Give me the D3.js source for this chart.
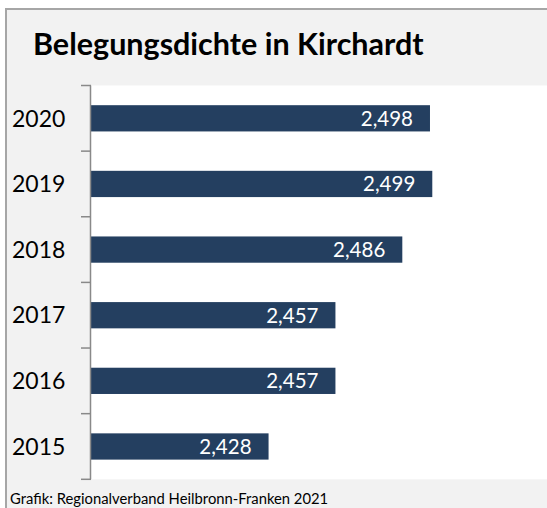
<!DOCTYPE html>
<html><head><meta charset="utf-8">
<script src="https://cdn.jsdelivr.net/npm/d3@7"></script>
<style>html,body{margin:0;padding:0;background:#fff;}svg{display:block;}</style>
</head><body>
<svg id="c" width="547" height="508"></svg>
<script>
const years = ["2020","2019","2018","2017","2016","2015"];
const values = [2.498, 2.499, 2.486, 2.457, 2.457, 2.428];
const xDomain = [2.351, 2.551];
const title = "Belegungsdichte in Kirchardt";
const source = "Grafik: Regionalverband Heilbronn-Franken 2021";

const svg = d3.select("#c");
const W = 547, H = 508;
// outer frame
svg.append("rect").attr("x", 6).attr("y", 9).attr("width", W + 10).attr("height", H)
  .attr("fill", "#f2f2f2").attr("stroke", "#a6a6a6").attr("stroke-width", 2);

const plot = {left: 91, top: 85.5, bottom: 479.3, right: 547};
svg.append("rect").attr("x", plot.left).attr("y", plot.top)
  .attr("width", plot.right - plot.left).attr("height", plot.bottom - plot.top).attr("fill", "#fff");

const x = d3.scaleLinear().domain(xDomain).range([plot.left, plot.left + 0.2 * 2306]);
const y = d3.scaleBand().domain(years).range([plot.top, plot.bottom]).paddingInner(0.6).paddingOuter(0.3);
const yBound = d3.scaleBand().domain(years).range([plot.top, plot.bottom]);

svg.append("text").attr("x", 33).attr("y", 55).text(title)
  .attr("font-family", "Lato, 'Open Sans', sans-serif").attr("font-weight", "bold")
  .attr("font-size", 30.5).attr("fill", "#000");

svg.selectAll("rect.bar").data(values).enter().append("rect").attr("class", "bar")
  .attr("x", x(xDomain[0])).attr("y", (d, i) => y(years[i]))
  .attr("width", d => x(d) - x(xDomain[0])).attr("height", y.bandwidth())
  .attr("fill", "#243f60");

svg.selectAll("text.val").data(values).enter().append("text").attr("class", "val")
  .attr("x", d => x(d) - 17).attr("y", (d, i) => y(years[i]) + y.bandwidth() / 2)
  .attr("dy", "0.36em").attr("text-anchor", "end")
  .attr("font-family", "Lato, sans-serif").attr("font-size", 20.5).attr("fill", "#fff")
  .text(d => d3.format(".3f")(d).replace(".", ","));

// axis
const axisG = svg.append("g");
axisG.append("line").attr("x1", plot.left - 0.5).attr("x2", plot.left - 0.5)
  .attr("y1", plot.top).attr("y2", plot.bottom).attr("stroke", "#898989").attr("stroke-width", 1.5);
const ticks = years.map(yr => yBound(yr)).concat([plot.bottom]);
axisG.selectAll("line.t").data(ticks).enter().append("line").attr("class", "t")
  .attr("x1", plot.left - 10).attr("x2", plot.left).attr("y1", d => d).attr("y2", d => d)
  .attr("stroke", "#898989").attr("stroke-width", 1.5);
axisG.selectAll("text.yl").data(years).enter().append("text").attr("class", "yl")
  .attr("x", 12).attr("y", d => yBound(d) + yBound.bandwidth() / 2).attr("dy", "0.36em")
  .attr("font-family", "Lato, sans-serif").attr("font-size", 23).attr("fill", "#000").text(d => d);

svg.append("text").attr("x", 10).attr("y", 504).text(source)
  .attr("font-family", "Lato, sans-serif").attr("font-size", 14.8).attr("fill", "#000");
</script>
</body></html>
